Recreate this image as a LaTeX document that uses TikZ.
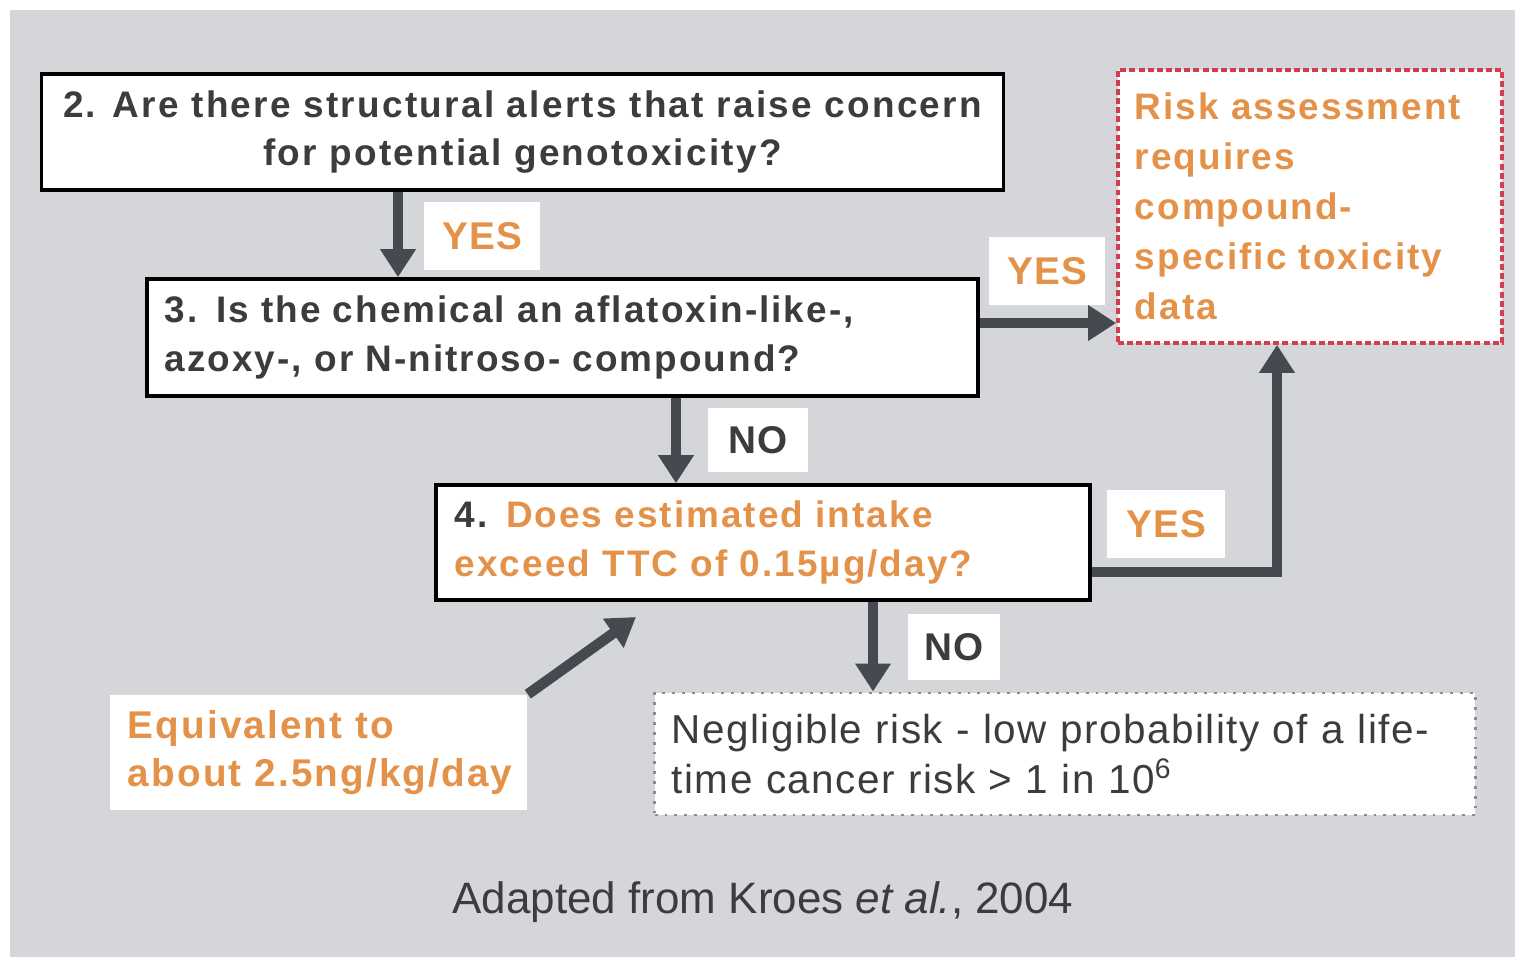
\documentclass[tikz,border=0pt]{standalone}
\usepackage{fontspec}
\setmainfont{Liberation Sans}
\usetikzlibrary{arrows.meta}
\definecolor{bg}{RGB}{212,214,217}
\definecolor{txt}{RGB}{60,60,62}
\definecolor{org}{RGB}{228,146,74}
\definecolor{arr}{RGB}{70,73,79}
\definecolor{redd}{RGB}{214,60,80}
\definecolor{dotg}{RGB}{140,140,140}
\newcommand{\spaced}[1]{\addfontfeatures{LetterSpace=#1}}
\begin{document}
\begin{tikzpicture}[x=0.01cm,y=-0.01cm,
 qbox/.style={draw=black,line width=1pt,fill=white,font=\bfseries\fontsize{10.5}{13.8}\selectfont\spaced{5.5},text=txt,inner ysep=0pt},
 lab/.style={fill=white,font=\bfseries\fontsize{11}{13}\selectfont\spaced{3},inner sep=0pt},
 flow/.style={draw=arr,line width=3pt,-{Triangle[width=0.34cm,length=0.28cm]}},
]
\useasboundingbox (0,0) rectangle (1515,957);
\fill[white] (0,0) rectangle (1515,957);
\fill[bg] (10,10) rectangle (1515,957);

\node[qbox,minimum width=9.61cm,minimum height=1.16cm,align=center,font=\bfseries\fontsize{10.5}{13.8}\selectfont\spaced{6.2}] (q2) at (522.5,132)
  {2. Are there structural alerts that raise concern\\for potential genotoxicity?};
\node[qbox,minimum height=1.17cm,text width=7.95cm,inner xsep=0.18cm,align=left] (q3) at (562.5,337.5)
  {3. Is the chemical an aflatoxin-like-,\\azoxy-, or N-nitroso- compound?};
\node[qbox,minimum height=1.15cm,text width=6.16cm,inner xsep=0.19cm,align=left] (q4) at (763,542.5)
  {4. \textcolor{org}{Does estimated intake}\\\textcolor{org}{exceed TTC of 0.15µg/day?}};
\node[draw=redd,line width=1pt,dash pattern=on 1.7pt off 0.9pt,fill=white,text=org,
  font=\bfseries\fontsize{10.5}{14.2}\selectfont\spaced{5.5},minimum height=2.73cm,text width=3.5cm,
  inner xsep=0.17cm,align=left] (risk) at (1310,206.5)
  {Risk assessment\\requires\\compound-\\specific toxicity\\data};
\node[draw=dotg,line width=0.8pt,dotted,fill=white,text=txt,
  font=\fontsize{11.5}{14.2}\selectfont\spaced{3.6},minimum height=1.22cm,text width=7.86cm,
  inner xsep=0.17cm,align=left] (neg) at (1065,754)
  {Negligible risk - low probability of a life-\\time cancer risk > 1 in 10\textsuperscript{6}};
\node[fill=white,text=org,font=\bfseries\fontsize{11}{13.6}\selectfont\spaced{5.5},minimum height=1.15cm,
  text width=3.81cm,inner xsep=0.18cm,align=left] (eq) at (318.5,752.5)
  {Equivalent to\\about 2.5ng/kg/day};

\node[lab,text=org,minimum width=1.16cm,minimum height=0.68cm] (y1) at (482,236) {YES};
\node[lab,text=org,minimum width=1.15cm,minimum height=0.67cm] (y2) at (1047,271) {YES};
\node[lab,text=org,minimum width=1.17cm,minimum height=0.68cm] (y3) at (1166,524) {YES};
\node[lab,text=txt,minimum width=1.0cm,minimum height=0.64cm] (n1) at (758,440) {NO};
\node[lab,text=txt,minimum width=0.92cm,minimum height=0.66cm] (n2) at (954,647) {NO};

\node[text=txt,font=\fontsize{12.5}{15}\selectfont] (cap) at (763,902)
  {Adapted from Kroes \textit{et al.}, 2004};

\coordinate (a1) at (398,0);
\coordinate (a2) at (0,323);
\coordinate (a3) at (676,0);
\coordinate (a4) at (0,572);
\coordinate (a5) at (1277,0);
\coordinate (a6) at (873,0);
\coordinate (tip) at (636,617);

\draw[flow] (q2.south -| a1) -- (q3.north -| a1);
\draw[flow] (q3.east |- a2) -- (risk.west |- a2);
\draw[flow] (q3.south -| a3) -- (q4.north -| a3);
\draw[flow] (q4.east |- a4) -| (risk.south -| a5);
\draw[flow] (q4.south -| a6) -- (neg.north -| a6);
\draw[flow] (eq.north east) -- (tip);
\end{tikzpicture}
\end{document}
